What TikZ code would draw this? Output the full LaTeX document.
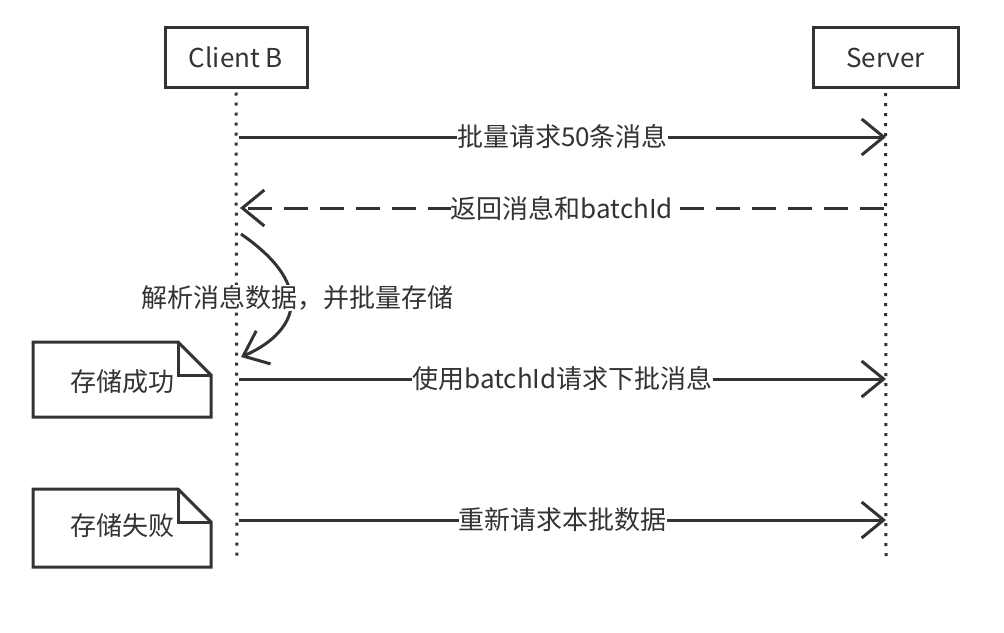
\documentclass[tikz,border=0pt]{standalone}
\usepackage{fontspec}
\setmainfont{Noto Sans CJK SC}
\usetikzlibrary{arrows.meta}
\definecolor{ink}{HTML}{333333}
\tikzset{
  actor/.style={draw=ink, line width=3pt, fill=white, text=ink, minimum width=142pt, minimum height=60pt, inner sep=0pt, font=\fontsize{26}{30}\selectfont},
  lifeline/.style={draw=ink, line width=3pt, dash pattern=on 3pt off 7pt},
  msg/.style={draw=ink, line width=3pt, -{Straight Barb[length=22pt,width=36pt,line width=3pt]}},
  reply/.style={msg, dash pattern=on 24pt off 12pt},
  lbl/.style={fill=white, text=ink, inner xsep=0pt, inner ysep=1pt, font=\fontsize{26}{30}\selectfont},
  notebox/.style={draw=ink, line width=3pt, fill=white, line join=miter},
  notetext/.style={text=ink, inner sep=0pt, font=\fontsize{26}{30}\selectfont}
}
\begin{document}
\begin{tikzpicture}[x=1pt,y=-1pt]
\useasboundingbox[fill=white] (0,0) rectangle (1004,632);
% lifelines
\coordinate (cend) at (237,560);
\coordinate (send) at (886,560);
\node[actor] (cb) at (236,57) {Client B};
\node[actor, minimum width=145pt] (sv) at (885.5,57.5) {Server};
\draw[lifeline] (cb.south) ++(0,4) -- (cend);
\draw[lifeline] (sv.south) ++(0,4) -- (send);
% message anchors
\coordinate (c1) at (239,137);  \coordinate (s1) at (886,137);
\coordinate (c2) at (240,208);  \coordinate (s2) at (884,208);
\coordinate (c3a) at (241,234); \coordinate (c3b) at (241,357);
\coordinate (c4) at (239,379);  \coordinate (s4) at (886,379);
\coordinate (c5) at (239,520);  \coordinate (s5) at (886,520);
% messages
\draw[msg] (c1) -- node[lbl] (m1) {批量请求50条消息} (s1);
\draw[reply] (s2) -- node[lbl] (m2) {返回消息和batchId} (c2);
\draw[msg] (c3a) .. controls (322,290) and (292,335) .. (c3b);
\node[lbl] (m3) at (297,298) {解析消息数据，并批量存储};
\draw[msg] (c4) -- node[lbl] (m4) {使用batchId请求下批消息} (s4);
\draw[msg] (c5) -- node[lbl] (m5) {重新请求本批数据} (s5);
% notes
\draw[notebox] (33,342) -- (178,342) -- (211,375) -- (211,417) -- (33,417) -- cycle;
\draw[draw=ink, line width=3pt] (178,342) -- (178,375) -- (211,375);
\node[notetext] (n1) at (122,382) {存储成功};
\draw[notebox] (33,489) -- (178,489) -- (211,522) -- (211,567) -- (33,567) -- cycle;
\draw[draw=ink, line width=3pt] (178,489) -- (178,522) -- (211,522);
\node[notetext] (n2) at (122,526) {存储失败};
\end{tikzpicture}
\end{document}
